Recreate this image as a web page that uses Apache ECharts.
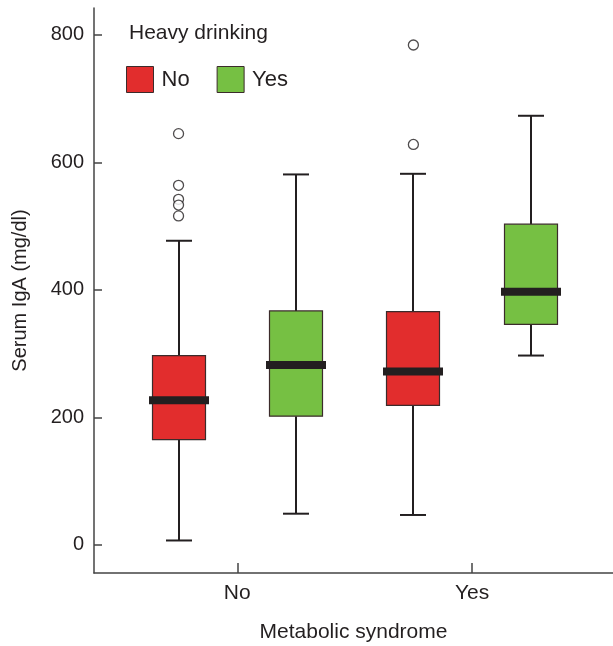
<!DOCTYPE html>
<html>
<head>
<meta charset="utf-8">
<title>Serum IgA by metabolic syndrome and heavy drinking</title>
<script src="https://cdn.jsdelivr.net/npm/echarts@6/dist/echarts.min.js"></script>
<style>
  html, body { margin: 0; padding: 0; background: #fff; }
  #chart { width: 613px; height: 646px; }
</style>
</head>
<body>
<div id="chart"></div>
<script>
// Categories on the x axis (metabolic syndrome) and groups (heavy drinking)
const categories = ['No', 'Yes'];
const groups = ['No', 'Yes'];

// Box statistics per category: [min, Q1, median, Q3, max] in mg/dl
const noDrinkingStats = [
  [7, 165, 227, 297, 477],
  [47, 219, 272, 366, 582]
];
const drinkingStats = [
  [49, 202, 282, 367, 581],
  [297, 346, 397, 503, 673]
];

// Outliers for the non-heavy-drinking group, per category
const noDrinkingOutliers = [
  [645, 564, 542, 533, 516],
  [784, 628]
];

const yTicks = [0, 200, 400, 600, 800];

const RED = '#e22d2d';
const GREEN = '#76c043';
const INK = '#231f20';
const GROUP_OFFSET = 0.25;

function boxData(stats, side) {
  return stats.map((s, i) => [i + 1 + side * GROUP_OFFSET].concat(s));
}

function outlierData(list, side) {
  const out = [];
  list.forEach((vals, i) => vals.forEach(v => out.push([i + 1 + side * GROUP_OFFSET, v])));
  return out;
}

function renderBox(params, api) {
  const x = api.value(0);
  const pMin = api.coord([x, api.value(1)]);
  const pQ1 = api.coord([x, api.value(2)]);
  const pMed = api.coord([x, api.value(3)]);
  const pQ3 = api.coord([x, api.value(4)]);
  const pMax = api.coord([x, api.value(5)]);
  const cx = Math.round(pMed[0]);
  const boxHalf = 26.5, capHalf = 13, medHalf = 30, medH = 8;
  const fill = api.visual('color');
  const lineStyle = { stroke: INK, lineWidth: 2 };
  return {
    type: 'group',
    children: [
      { type: 'line', shape: { x1: cx, y1: pQ3[1], x2: cx, y2: pMax[1] }, style: lineStyle },
      { type: 'line', shape: { x1: cx, y1: pQ1[1], x2: cx, y2: pMin[1] }, style: lineStyle },
      { type: 'line', shape: { x1: cx - capHalf, y1: pMax[1], x2: cx + capHalf, y2: pMax[1] }, style: lineStyle },
      { type: 'line', shape: { x1: cx - capHalf, y1: pMin[1], x2: cx + capHalf, y2: pMin[1] }, style: lineStyle },
      {
        type: 'rect',
        shape: { x: cx - boxHalf, y: pQ3[1], width: boxHalf * 2, height: pQ1[1] - pQ3[1] },
        style: { fill: fill, stroke: '#3b2b2b', lineWidth: 1.2 }
      },
      {
        type: 'rect',
        shape: { x: cx - medHalf, y: pMed[1] - medH / 2, width: medHalf * 2, height: medH },
        style: { fill: INK }
      }
    ]
  };
}

const chart = echarts.init(document.getElementById('chart'), null, { renderer: 'canvas' });

const axisLineStyle = { color: '#444', width: 1.5 };
const font = 'Liberation Sans, Arial, Helvetica, sans-serif';
const TEXT = '#231f20';

chart.setOption({
  animation: false,
  backgroundColor: '#fff',
  title: {
    text: 'Heavy drinking',
    left: 129,
    top: 23,
    padding: 0,
    textStyle: { fontFamily: font, fontSize: 21, fontWeight: 'normal', color: TEXT }
  },
  legend: {
    data: groups,
    left: 126,
    top: 66,
    padding: 0,
    itemWidth: 27,
    itemHeight: 26,
    itemGap: 27,
    icon: 'rect',
    itemStyle: { borderColor: '#3b2b2b', borderWidth: 1 },
    textStyle: { fontFamily: font, fontSize: 22, color: TEXT, padding: [0, 0, 0, 3] }
  },
  grid: { left: 94, right: 0, top: 8, bottom: 73, containLabel: false, outerBoundsMode: 'none' },
  xAxis: {
    type: 'value',
    min: 0.39,
    max: 2.6,
    name: 'Metabolic syndrome',
    nameLocation: 'middle',
    nameGap: 49,
    nameTextStyle: { fontFamily: font, fontSize: 21, color: TEXT },
    axisLine: { show: true, onZero: false, lineStyle: axisLineStyle },
    axisTick: { show: true, inside: true, length: 10, customValues: [1, 2], lineStyle: axisLineStyle },
    axisLabel: {
      customValues: [1, 2],
      formatter: v => categories[Math.round(v) - 1] || '',
      margin: 10,
      fontFamily: font, fontSize: 21, color: TEXT
    },
    splitLine: { show: false }
  },
  yAxis: {
    type: 'value',
    min: -44,
    max: 842,
    name: 'Serum IgA (mg/dl)',
    nameLocation: 'middle',
    nameGap: 64,
    nameTextStyle: { fontFamily: font, fontSize: 20, color: TEXT },
    axisLine: { show: true, onZero: false, lineStyle: axisLineStyle },
    axisTick: { show: true, inside: true, length: 8, customValues: yTicks, lineStyle: axisLineStyle },
    axisLabel: {
      customValues: yTicks,
      margin: 10,
      fontFamily: font, fontSize: 20, color: TEXT
    },
    splitLine: { show: false }
  },
  series: [
    {
      name: groups[0],
      type: 'custom',
      renderItem: renderBox,
      itemStyle: { color: RED },
      encode: { x: 0, y: [1, 2, 3, 4, 5] },
      data: boxData(noDrinkingStats, -1),
      z: 2
    },
    {
      name: groups[1],
      type: 'custom',
      renderItem: renderBox,
      itemStyle: { color: GREEN },
      encode: { x: 0, y: [1, 2, 3, 4, 5] },
      data: boxData(drinkingStats, 1),
      z: 2
    },
    {
      type: 'scatter',
      symbol: 'circle',
      symbolSize: 10,
      itemStyle: { color: '#fff', borderColor: INK, borderWidth: 1.3 },
      data: outlierData(noDrinkingOutliers, -1),
      z: 3
    }
  ]
});
</script>
</body>
</html>
